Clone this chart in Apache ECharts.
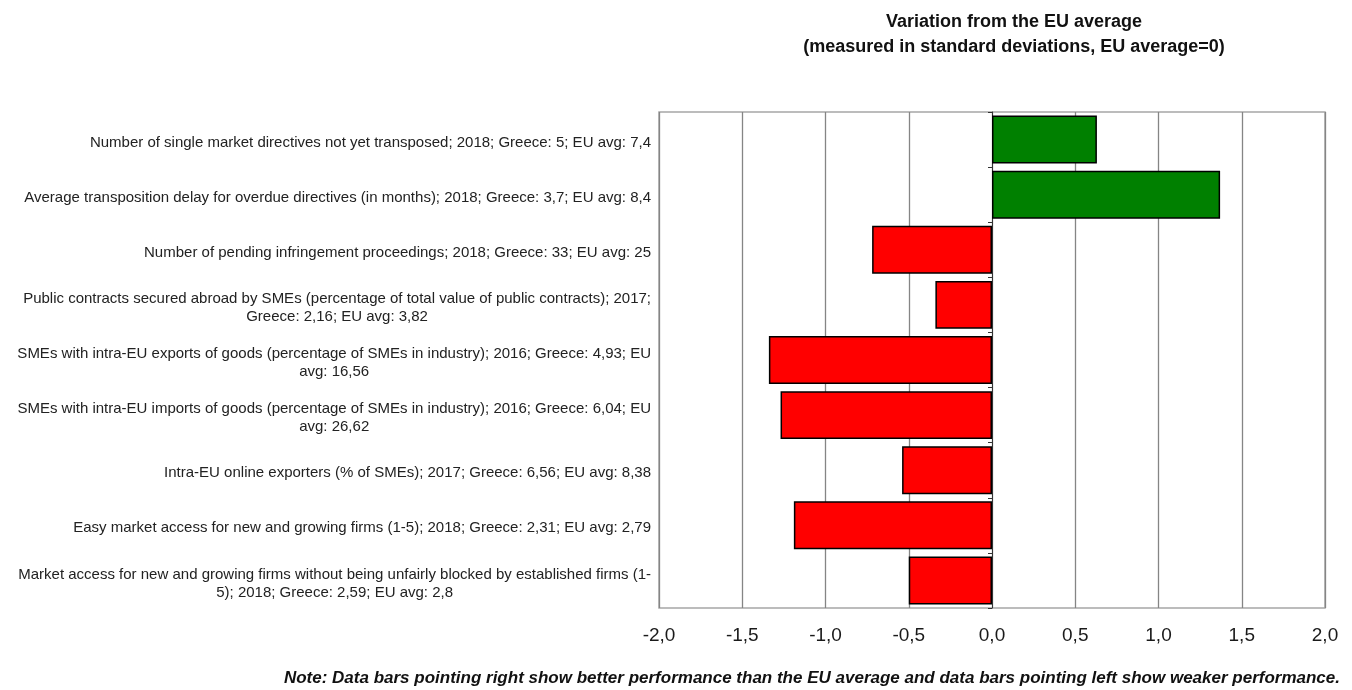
<!DOCTYPE html>
<html>
<head>
<meta charset="utf-8">
<script src="https://cdn.jsdelivr.net/npm/echarts@6/dist/echarts.min.js"></script>
<style>
  html, body { margin: 0; padding: 0; background: #fff; }
  #chart { width: 1352px; height: 690px; }
</style>
</head>
<body>
<div id="chart"></div>
<script>
// Indicator labels (top to bottom); "\n" marks the wrapped lines
const indicators = [
  'Number of single market directives not yet transposed; 2018; Greece: 5; EU avg: 7,4',
  'Average transposition delay for overdue directives (in months); 2018; Greece: 3,7; EU avg: 8,4',
  'Number of pending infringement proceedings; 2018; Greece: 33; EU avg: 25',
  'Public contracts secured abroad by SMEs (percentage of total value of public contracts); 2017;\nGreece: 2,16; EU avg: 3,82',
  'SMEs with intra-EU exports of goods (percentage of SMEs in industry); 2016; Greece: 4,93; EU\navg: 16,56',
  'SMEs with intra-EU imports of goods (percentage of SMEs in industry); 2016; Greece: 6,04; EU\navg: 26,62',
  'Intra-EU online exporters (% of SMEs); 2017; Greece: 6,56; EU avg: 8,38',
  'Easy market access for new and growing firms (1-5); 2018; Greece: 2,31; EU avg: 2,79',
  'Market access for new and growing firms without being unfairly blocked by established firms (1-\n5); 2018; Greece: 2,59; EU avg: 2,8'
];

// Distance from the EU average, in standard deviations
const deviations = [0.63, 1.37, -0.72, -0.34, -1.34, -1.27, -0.54, -1.19, -0.50];

// Value axis range and step
const axisMin = -2;
const axisMax = 2;
const axisStep = 0.5;

const titleText = 'Variation from the EU average\n(measured in standard deviations, EU average=0)';
const noteText = 'Note: Data bars pointing right show better performance than the EU average and data bars pointing left show weaker performance.';

const FONT = 'Liberation Sans, Arial, sans-serif';

const chart = echarts.init(document.getElementById('chart'), null, { renderer: 'canvas' });

chart.setOption({
  animation: false,
  backgroundColor: '#ffffff',
  title: [
    {
      text: titleText,
      left: 1009,
      top: 5,
      textAlign: 'center',
      textStyle: {
        fontFamily: FONT,
        fontWeight: 'bold',
        fontSize: 18,
        lineHeight: 25,
        color: '#111'
      }
    },
    {
      text: noteText,
      right: 7,
      top: 665,
      textStyle: {
        fontFamily: FONT,
        fontWeight: 'bold',
        fontStyle: 'italic',
        fontSize: 17,
        color: '#111'
      }
    }
  ],
  grid: {
    left: 659,
    right: 27,
    top: 112,
    bottom: 82,
    show: true,
    borderColor: '#a6a6a6',
    borderWidth: 1.5,
    containLabel: false
  },
  xAxis: {
    type: 'value',
    min: axisMin,
    max: axisMax,
    interval: axisStep,
    axisLine: { show: false },
    axisTick: { show: false },
    splitLine: { show: true, lineStyle: { color: '#858585', width: 1.3 } },
    axisLabel: {
      margin: 18,
      fontFamily: FONT,
      fontSize: 19,
      color: '#1a1a1a',
      formatter: v => v.toFixed(1).replace('.', ',')
    }
  },
  yAxis: [
    {
      type: 'category',
      inverse: true,
      data: indicators,
      axisLine: { show: false, onZero: false },
      axisTick: { show: false },
      axisLabel: {
        margin: 8,
        padding: [6, 0, 0, 0],
        fontFamily: FONT,
        fontSize: 15,
        color: '#222',
        lineHeight: 18,
        formatter: s => s.split('\n').map(l => '{c|' + l + '}').join('\n'),
        rich: {
          c: {
            align: 'center',
            fontFamily: FONT,
            fontSize: 15,
            lineHeight: 18,
            color: '#222'
          }
        }
      }
    },
    {
      type: 'category',
      inverse: true,
      position: 'left',
      data: indicators,
      axisLine: { show: true, onZero: true, lineStyle: { color: '#333', width: 1 } },
      axisTick: { show: true, length: 4, lineStyle: { color: '#333' } },
      axisLabel: { show: false }
    }
  ],
  series: [
    {
      type: 'bar',
      yAxisIndex: 0,
      data: deviations,
      barCategoryGap: '13%',
      itemStyle: {
        color: p => (p.value >= 0 ? '#008000' : '#ff0000'),
        borderColor: '#000',
        borderWidth: 1.5
      }
    }
  ]
});
</script>
</body>
</html>
